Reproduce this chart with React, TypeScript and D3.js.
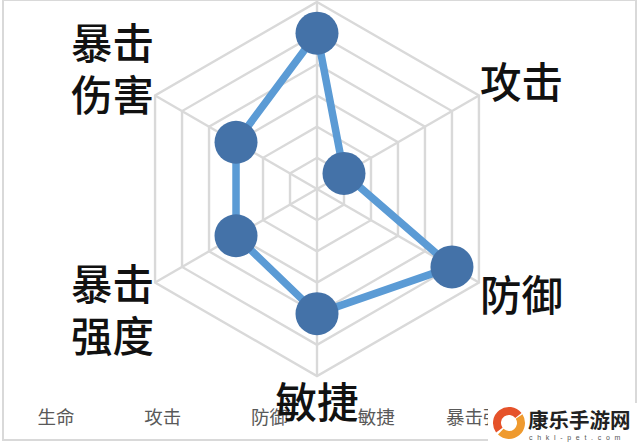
import * as d3 from "d3";

const categories = ["生命", "攻击", "防御", "敏捷", "暴击强度", "暴击伤害"];
const values = [5, 1, 5, 4, 3, 3];
const ringTicks = [1, 2, 3, 4, 5, 6];
// bottom row stops at 暴击强度, the watermark hides whatever came after it
const legendLabels = ["生命", "攻击", "防御", "敏捷", "暴击强度"];
// big overlay labels, one inner list per text line ("生命" has none in the picture)
const bigLabels = [[], ["攻击"], ["防御"], ["敏捷"], ["暴击", "强度"], ["暴击", "伤害"]];
const watermarkTitle = "康乐手游网";
const watermarkUrl = "chkl-pet.com";

const width = 638;
const height = 443;
const cx = 317;
const cy = 189;
const outer = 187;

const FONT = "'Noto Sans CJK SC', 'Noto Sans', sans-serif";

const r = d3.scaleLinear().domain([0, 6]).range([0, outer]);
const angle = d3
  .scalePoint<string>()
  .domain(categories)
  .range([0, (2 * Math.PI * 5) / 6]);
const legendX = d3
  .scalePoint<string>()
  .domain(legendLabels)
  .range([56, 483]);

const pointAt = (cat: string, value: number): [number, number] => {
  const a = angle(cat) ?? 0;
  return [Math.sin(a) * r(value), -Math.cos(a) * r(value)];
};

const closedLine = d3.line().curve(d3.curveLinearClosed);

const swoosh = d3.arc();

export default function App() {
  const dataPoints = categories.map((c, i) => pointAt(c, values[i]));

  return (
    <svg
      width={width}
      height={height}
      viewBox={`0 0 ${width} ${height}`}
      style={{ position: "fixed", left: 0, top: 0, background: "#fff" }}
      fontFamily={FONT}
    >
      <rect x={3} y={0} width={633} height={440} fill="none" stroke="#d9d9d9" strokeWidth={2} />

      <g transform={`translate(${cx},${cy})`}>
        {ringTicks.map((t) => (
          <path
            key={t}
            d={closedLine(categories.map((c) => pointAt(c, t))) ?? ""}
            fill="none"
            stroke="#d9d9d9"
            strokeWidth={2.4}
          />
        ))}
        {categories.map((c) => {
          const [x, y] = pointAt(c, 6);
          return <line key={c} x1={0} y1={0} x2={x} y2={y} stroke="#d9d9d9" strokeWidth={2.4} />;
        })}
        <path d={closedLine(dataPoints) ?? ""} fill="none" stroke="#5b9bd5" strokeWidth={7.5} strokeLinejoin="round" />
        {dataPoints.map(([x, y], i) => (
          <circle key={categories[i]} cx={x} cy={y} r={21.5} fill="#4472a8" />
        ))}
      </g>

      {legendLabels.map((c) => (
        <text
          key={c}
          x={legendX(c)}
          y={416}
          textAnchor="middle"
          dominantBaseline="central"
          fontSize={18.5}
          fill="#595959"
        >
          {c}
        </text>
      ))}

      {categories.map((c, i) => {
        const lines = bigLabels[i];
        if (!lines.length) return null;
        const [vx, vy] = pointAt(c, 6);
        const side = Math.sign(Math.round(vx));
        const anchor = side > 0 ? "start" : side < 0 ? "end" : "middle";
        const lineHeight = 52;
        // first line sits above the vertex for the upper half, near it for the lower half
        const top = side === 0 ? 24 : vy < 0 ? (lines.length > 1 ? -55 : -16) : lines.length > 1 ? -1 : 10;
        return (
          <text key={c} textAnchor={anchor} fontSize={41.5} fontWeight={500} fill="#111" dominantBaseline="central">
            {lines.map((line, j) => (
              <tspan key={line} x={cx + vx + side} y={cy + vy + top + j * lineHeight}>
                {line}
              </tspan>
            ))}
          </text>
        );
      })}

      <g>
        <rect x={488} y={403} width={150} height={40} fill="#fff" />
        <g transform="translate(509,423)">
          <path
            d={swoosh({ innerRadius: 8, outerRadius: 16, startAngle: -2.2, endAngle: 0.9 }) ?? ""}
            fill="#e5522a"
          />
          <path
            d={swoosh({ innerRadius: 8, outerRadius: 16, startAngle: 1.0, endAngle: 3.9 }) ?? ""}
            fill="#ef9a2e"
          />
        </g>
        <text x={528} y={419} fontSize={20.5} fontWeight={700} fill="#222" dominantBaseline="central">
          {watermarkTitle}
        </text>
        <text x={529} y={437} fontSize={7} fill="#555" letterSpacing={4.7} dominantBaseline="central" fontFamily="'Liberation Sans', sans-serif">
          {watermarkUrl}
        </text>
      </g>
    </svg>
  );
}
